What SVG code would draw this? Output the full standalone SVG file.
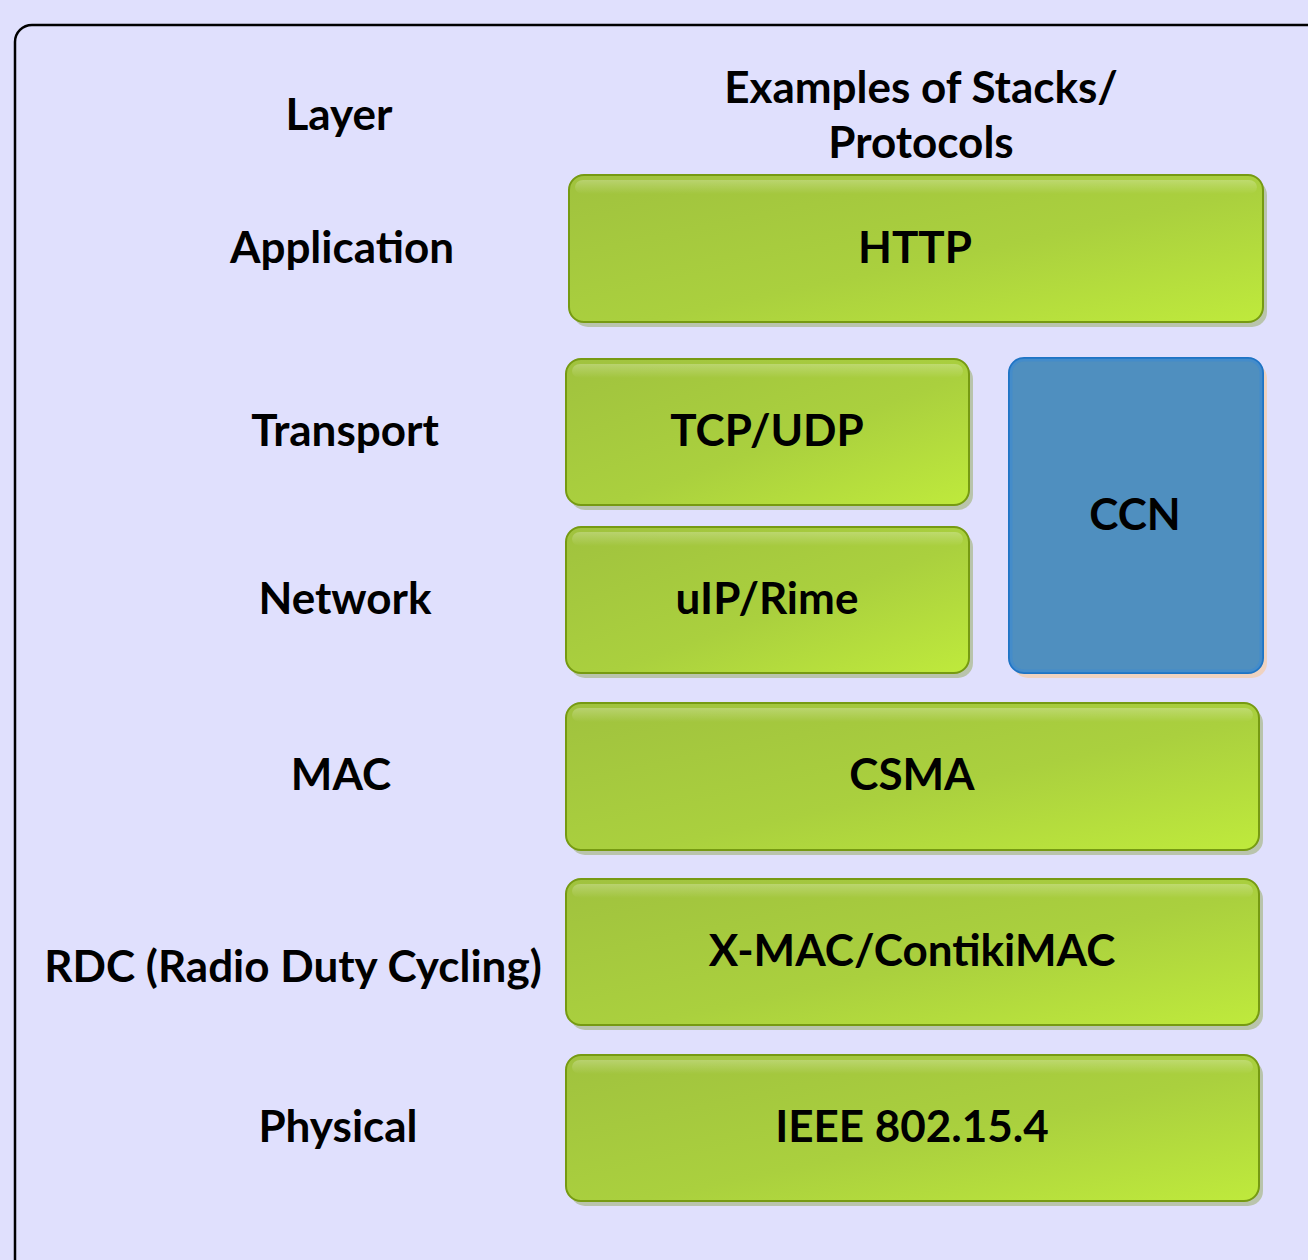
<svg xmlns="http://www.w3.org/2000/svg" width="1308" height="1260" viewBox="0 0 1308 1260">
<defs>
<linearGradient id="g" x1="0" y1="0" x2="1" y2="1">
<stop offset="0" stop-color="#a0c23e"/>
<stop offset="0.55" stop-color="#aad03e"/>
<stop offset="1" stop-color="#bfea3c"/>
</linearGradient>
<linearGradient id="hl" x1="0" y1="0" x2="0" y2="1">
<stop offset="0" stop-color="#ffffff" stop-opacity="0.25"/>
<stop offset="1" stop-color="#ffffff" stop-opacity="0"/>
</linearGradient>
<style>
.t{font-family:Lato,"Open Sans","DejaVu Sans",sans-serif;font-weight:bold;font-size:44px;fill:#000;text-anchor:middle}
.box{fill:url(#g);stroke:#769a12;stroke-width:2}
.sh{fill:#b9c4ac}
.hl{fill:url(#hl)}
</style>
</defs>
<rect x="0" y="0" width="1308" height="1260" fill="#e0e0fd"/>
<rect x="15" y="25" width="1330" height="1270" rx="17" fill="none" stroke="#000" stroke-width="2.5"/>
<g id="headers">
<text class="t" x="339" y="130">Layer</text>
<text class="t" x="921" y="103">Examples of Stacks/</text>
<text class="t" x="921" y="158">Protocols</text>
</g>
<g id="layers">
<text class="t" x="342" y="263">Application</text>
<text class="t" x="345" y="446">Transport</text>
<text class="t" x="345" y="614">Network</text>
<text class="t" x="341" y="790">MAC</text>
<text class="t" x="293" y="982">RDC (Radio Duty Cycling)</text>
<text class="t" x="338" y="1142">Physical</text>
</g>
<g id="http">
<rect class="sh" x="573" y="180" width="694" height="147" rx="15"/>
<rect class="box" x="569" y="175" width="694" height="147" rx="15"/>
<rect class="hl" x="575" y="180" width="682" height="14" rx="8"/>
<text class="t" x="915" y="263">HTTP</text>
</g>
<g id="tcpudp">
<rect class="sh" x="570" y="364" width="403" height="146" rx="15"/>
<rect class="box" x="566" y="359" width="403" height="146" rx="15"/>
<rect class="hl" x="572" y="364" width="391" height="14" rx="8"/>
<text class="t" x="767" y="446">TCP/UDP</text>
</g>
<g id="uip">
<rect class="sh" x="570" y="532" width="403" height="146" rx="15"/>
<rect class="box" x="566" y="527" width="403" height="146" rx="15"/>
<rect class="hl" x="572" y="532" width="391" height="14" rx="8"/>
<text class="t" x="767" y="614">uIP/Rime</text>
</g>
<g id="ccn">
<rect x="1013" y="363" width="254" height="315" rx="15" fill="#efd2c0"/>
<rect x="1009" y="358" width="254" height="315" rx="15" fill="#4f8fbf" stroke="#1f74c4" stroke-width="2"/>
<rect x="1011" y="360" width="250" height="311" rx="13" fill="none" stroke="#3a8ad6" stroke-width="3" opacity="0.5"/>
<text class="t" x="1135" y="530">CCN</text>
</g>
<g id="csma">
<rect class="sh" x="570" y="708" width="693" height="147" rx="15"/>
<rect class="box" x="566" y="703" width="693" height="147" rx="15"/>
<rect class="hl" x="572" y="708" width="681" height="14" rx="8"/>
<text class="t" x="912" y="790">CSMA</text>
</g>
<g id="xmac">
<rect class="sh" x="570" y="884" width="693" height="146" rx="15"/>
<rect class="box" x="566" y="879" width="693" height="146" rx="15"/>
<rect class="hl" x="572" y="884" width="681" height="14" rx="8"/>
<text class="t" x="912" y="966">X-MAC/ContikiMAC</text>
</g>
<g id="ieee">
<rect class="sh" x="570" y="1060" width="693" height="146" rx="15"/>
<rect class="box" x="566" y="1055" width="693" height="146" rx="15"/>
<rect class="hl" x="572" y="1060" width="681" height="14" rx="8"/>
<text class="t" x="912" y="1142">IEEE 802.15.4</text>
</g>
<g id="connectors"/>
</svg>
